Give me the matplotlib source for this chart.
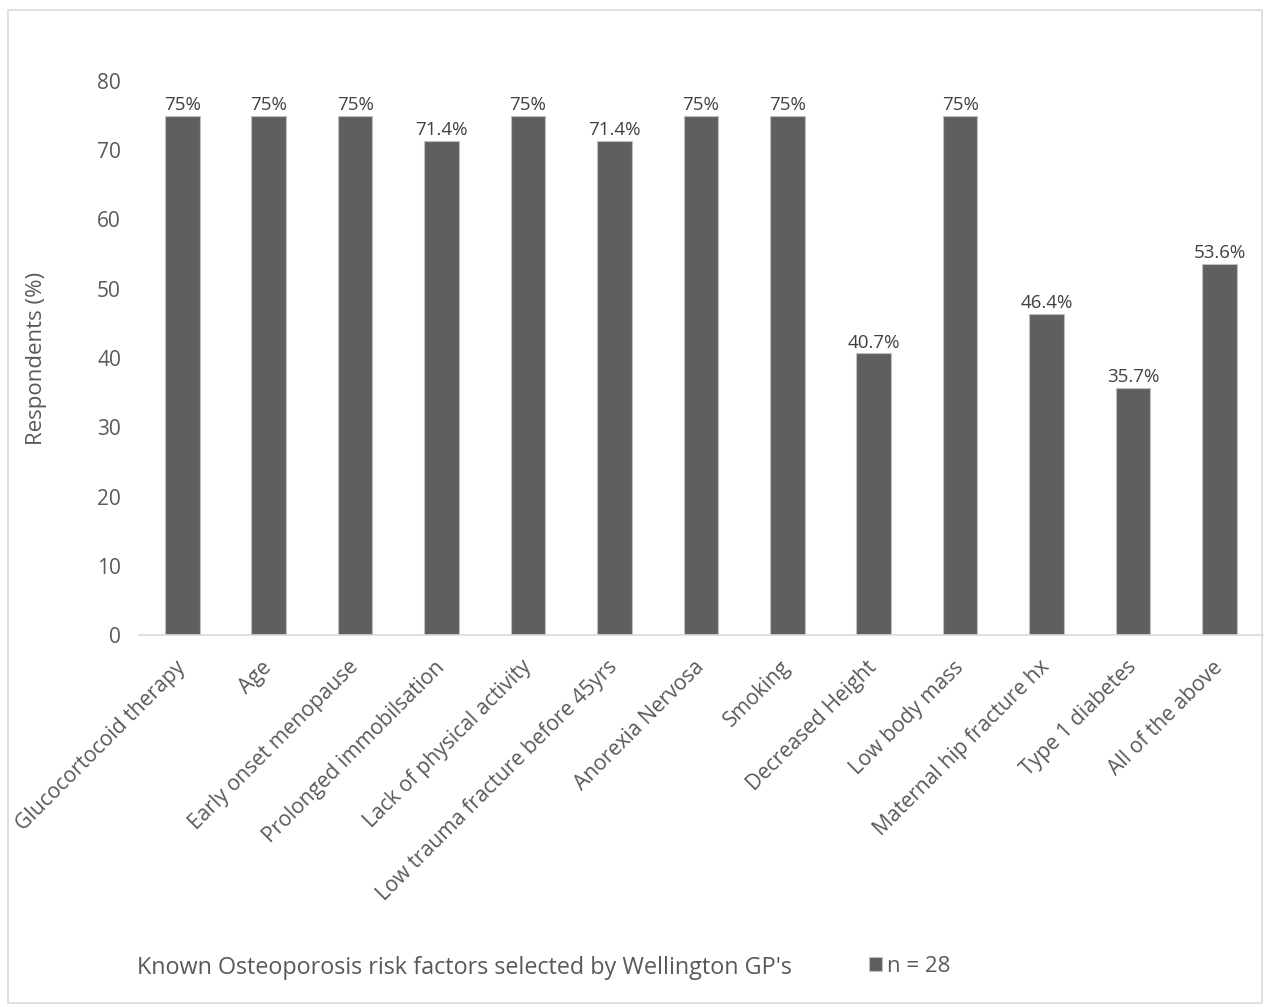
import matplotlib.pyplot as plt
from matplotlib.patches import Rectangle

categories = ['Glucocortocoid therapy', 'Age', 'Early onset menopause',
              'Prolonged immobilsation', 'Lack of physical activity',
              'Low trauma fracture before 45yrs', 'Anorexia Nervosa', 'Smoking',
              'Decreased Height', 'Low body mass', 'Maternal hip fracture hx',
              'Type 1 diabetes', 'All of the above']
values = [75, 75, 75, 71.4, 75, 71.4, 75, 75, 40.7, 75, 46.4, 35.7, 53.6]
labels = ['75%', '75%', '75%', '71.4%', '75%', '71.4%', '75%', '75%',
          '40.7%', '75%', '46.4%', '35.7%', '53.6%']

plt.rcParams['font.family'] = ['Open Sans', 'DejaVu Sans']

fig = plt.figure(figsize=(12.64, 10.07), dpi=100)
ax = fig.add_axes([0.110, 0.3694, 0.889, 0.5502])

x = range(len(categories))
ax.bar(x, values, width=0.4, color='#5f5f5f', edgecolor='#bfbfbf', linewidth=0.8,
       label='n = 28', zorder=2)
for i, (v, t) in enumerate(zip(values, labels)):
    ax.text(i, v + 0.2, t, ha='center', va='bottom', fontsize=13.5, color='#404040')

ax.set_xlim(-0.5, len(categories) - 0.5)
ax.set_ylim(0, 80)
ax.set_yticks(range(0, 81, 10))
ax.set_xticks(list(x))
ax.set_xticklabels(categories, rotation=45, ha='right', va='center',
                   rotation_mode='anchor', fontsize=15.2, color='#595959')
ax.tick_params(axis='y', length=0, labelsize=15, labelcolor='#595959', pad=13)
ax.tick_params(axis='x', length=0, pad=21)
for s in ['top', 'right', 'left']:
    ax.spines[s].set_visible(False)
ax.spines['bottom'].set_color('#d9d9d9')
ax.spines['bottom'].set_linewidth(1.2)
ax.set_ylabel('Respondents (%)', fontsize=16, color='#595959', labelpad=36)

fig.text(137 / 1264, 1 - 968 / 1007, "Known Osteoporosis risk factors selected by Wellington GP's",
         fontsize=16.8, color='#595959', va='center', ha='left')
ax.legend(loc='center left', bbox_to_anchor=(869 / 1264, 1 - 966 / 1007),
          bbox_transform=fig.transFigure, frameon=False, fontsize=16,
          handlelength=0.6, handleheight=0.6, handletextpad=0.2,
          labelcolor='#595959', borderpad=0, borderaxespad=0)

fig.patches.append(Rectangle((8 / 1264, 1 - 1003 / 1007), 1254 / 1264, 993 / 1007,
                             transform=fig.transFigure, fill=False,
                             edgecolor='#d9d9d9', linewidth=1.2))

plt.savefig('out.png', dpi=100)
